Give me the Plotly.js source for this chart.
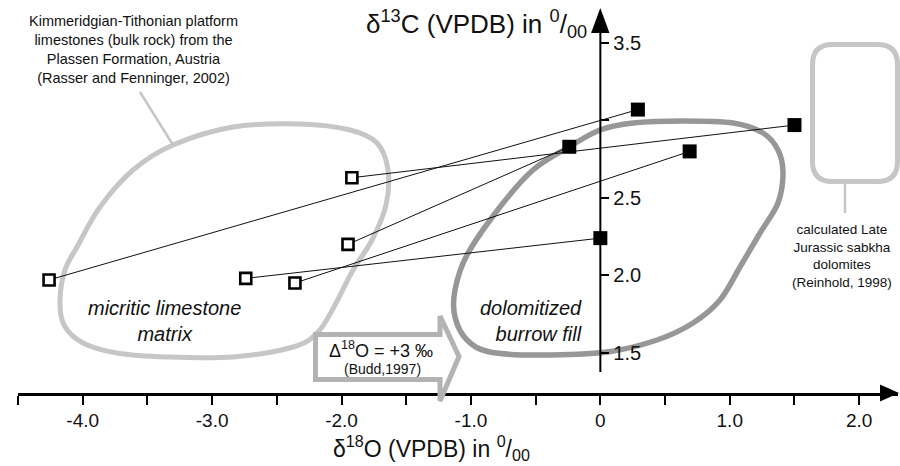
<!DOCTYPE html>
<html>
<head>
<meta charset="utf-8">
<script src="https://cdn.plot.ly/plotly-3.0.1.min.js"></script>
<style>html,body{margin:0;padding:0;background:#fff;}#chart{width:900px;height:466px;}</style>
</head>
<body>
<div id="chart"></div>
<script>
// Data: micritic limestone matrix (open squares) paired with dolomitized burrow fill (filled squares)
const limestoneD18O = [-4.26, -1.92, -1.95, -2.74, -2.36];
const limestoneD13C = [1.97, 2.63, 2.20, 1.98, 1.95];
const burrowD18O = [0.29, 1.50, -0.24, 0.00, 0.69];
const burrowD13C = [3.07, 2.97, 2.83, 2.24, 2.80];

const xTickVals = [-4, -3, -2, -1, 0, 1, 2];
const xTickText = ['-4.0', '-3.0', '-2.0', '-1.0', '0', '1.0', '2.0'];
const yTickVals = [1.5, 2.0, 2.5, 3.5];
const yTickText = ['1.5', '2.0', '2.5', '3.5'];

const FONT = 'Liberation Sans, Arial, Helvetica, sans-serif';

// plot area geometry (pixels)
const L = 18, T = 8, W = 880, H = 385;
const XR = [-4.5, 2.3], YR = [1.24, 3.726];
function px(x) { return (x - L) / W; }
function py(y) { return (T + H - y) / H; }

function smoothClosed(pts) {
  const n = pts.length;
  const P = pts.map(p => [px(p[0]), py(p[1])]);
  let d = 'M ' + P[0][0] + ',' + P[0][1];
  for (let i = 0; i < n; i++) {
    const p0 = P[(i - 1 + n) % n], p1 = P[i], p2 = P[(i + 1) % n], p3 = P[(i + 2) % n];
    const c1 = [p1[0] + (p2[0] - p0[0]) / 6, p1[1] + (p2[1] - p0[1]) / 6];
    const c2 = [p2[0] - (p3[0] - p1[0]) / 6, p2[1] - (p3[1] - p1[1]) / 6];
    d += ' C ' + c1[0] + ',' + c1[1] + ' ' + c2[0] + ',' + c2[1] + ' ' + p2[0] + ',' + p2[1];
  }
  return d + ' Z';
}
function poly(pts) {
  return 'M ' + pts.map(p => px(p[0]) + ',' + py(p[1])).join(' L ') + ' Z';
}

const lightBlob = [[173,145],[233,127],[300,124],[350,130],[377,143],[388,170],[386,205],[372,240],[353,270],[335,305],[318,332],[293,347],[233,357],[167,357],[117,353],[83,343],[64,325],[60,300],[65,270],[77,247],[100,207],[133,170]];
const darkBlob = [[569,147],[600,130],[633,123],[683,121],[733,123],[763,133],[778,150],[783,173],[778,203],[760,233],[740,267],[720,300],[693,323],[657,340],[607,352],[540,355],[490,352],[467,340],[455,317],[455,290],[467,255],[500,207],[533,170]];
const shiftArrow = [[315.5,334.5],[440,334.5],[440,316],[459,356.5],[440,401],[440,379.5],[315.5,379.5]];

// connector lines built from the data arrays
const lx = [], ly = [];
for (let i = 0; i < limestoneD18O.length; i++) {
  lx.push(limestoneD18O[i], burrowD18O[i], null);
  ly.push(limestoneD13C[i], burrowD13C[i], null);
}

const traces = [
  {x: lx, y: ly, mode: 'lines', line: {color: '#111', width: 1}, hoverinfo: 'skip', showlegend: false},
  {x: limestoneD18O, y: limestoneD13C, mode: 'markers', showlegend: false,
   marker: {symbol: 'square', size: 11, color: '#fff', line: {color: '#000', width: 2.6}}},
  {x: burrowD18O, y: burrowD13C, mode: 'markers', showlegend: false,
   marker: {symbol: 'square', size: 14, color: '#000', line: {width: 0}}}
];

const shapes = [
  {type: 'path', xref: 'paper', yref: 'paper', path: smoothClosed(lightBlob), line: {color: '#c6c6c6', width: 5}, layer: 'below'},
  {type: 'path', xref: 'paper', yref: 'paper', path: smoothClosed(darkBlob), line: {color: '#979797', width: 5.5}, layer: 'below'},
  // leader lines
  {type: 'line', xref: 'paper', yref: 'paper', x0: px(140), y0: py(92), x1: px(173), y1: py(145), line: {color: '#c6c6c6', width: 2.5}, layer: 'below'},
  {type: 'line', xref: 'paper', yref: 'paper', x0: px(845), y0: py(183), x1: px(845), y1: py(213), line: {color: '#c6c6c6', width: 2.5}, layer: 'below'},
  // Reinhold rounded box
  {type: 'path', xref: 'paper', yref: 'paper', layer: 'below', line: {color: '#c6c6c6', width: 5},
   path: (function(){ const x0=812.5,x1=897.5,y0=44.5,y1=181.5,r=20;
     return 'M '+px(x0+r)+','+py(y0)+' L '+px(x1-r)+','+py(y0)+' Q '+px(x1)+','+py(y0)+' '+px(x1)+','+py(y0+r)+
     ' L '+px(x1)+','+py(y1-r)+' Q '+px(x1)+','+py(y1)+' '+px(x1-r)+','+py(y1)+
     ' L '+px(x0+r)+','+py(y1)+' Q '+px(x0)+','+py(y1)+' '+px(x0)+','+py(y1-r)+
     ' L '+px(x0)+','+py(y0+r)+' Q '+px(x0)+','+py(y0)+' '+px(x0+r)+','+py(y0)+' Z'; })()},
  // y axis line + arrowhead
  {type: 'line', xref: 'x', yref: 'y', x0: 0, x1: 0, y0: 1.376, y1: 3.6, line: {color: '#000', width: 2}, layer: 'above'},
  {type: 'path', xref: 'paper', yref: 'paper', layer: 'above', fillcolor: '#000', line: {width: 0},
   path: poly([[600.3, 8], [609.5, 33], [591.1, 33]])},
  // x axis arrowhead
  {type: 'path', xref: 'paper', yref: 'paper', layer: 'above', fillcolor: '#000', line: {width: 0},
   path: poly([[899, 393], [880, 384.5], [880, 401.5]])},
  // shift arrow (white filled, covering axis)
  {type: 'path', xref: 'paper', yref: 'paper', layer: 'above', fillcolor: '#fff', line: {color: '#b3b3b3', width: 5},
   path: poly(shiftArrow)}
];

function ann(text, x, y, size, extra) {
  return Object.assign({xref: 'paper', yref: 'paper', x: px(x), y: py(y), text: text, showarrow: false,
    xanchor: 'center', yanchor: 'middle', font: {family: FONT, size: size, color: '#111'}}, extra || {});
}

const annotations = [
  ann('Kimmeridgian-Tithonian platform<br>limestones (bulk rock) from the<br>Plassen Formation, Austria<br>(Rasser and Fenninger, 2002)', 133, 49, 14.5),
  ann('calculated Late<br>Jurassic sabkha<br>dolomites<br>(Reinhold, 1998)', 842, 256, 13.5),
  ann('<i>micritic limestone<br>matrix</i>', 164, 321, 20),
  ann('<i>dolomitized<br>burrow fill</i>', 584, 321, 20, {xanchor: 'right', align: 'right'}),
  ann('Δ<sup>18</sup>O = +3 ‰', 381, 349, 18),
  ann('(Budd,1997)', 382, 369, 14),
  ann('δ<sup>13</sup>C (VPDB) in <sup>0</sup>/<sub>00</sub>', 476, 24, 26),
  ann('δ<sup>18</sup>O (VPDB) in <sup>0</sup>/<sub>00</sub>', 431, 448, 23)
];

const tickStyle = {ticks: 'outside', tickwidth: 2, tickcolor: '#000'};

const layout = {
  width: 900, height: 466,
  margin: {l: L, r: 900 - L - W, t: T, b: 466 - T - H, pad: 0},
  paper_bgcolor: '#fff', plot_bgcolor: '#fff',
  showlegend: false,
  font: {family: FONT, color: '#111'},
  xaxis: Object.assign({range: XR, showgrid: false, zeroline: false, showline: true, linecolor: '#000', linewidth: 2.5,
    ticklen: 9, tickmode: 'array', tickvals: xTickVals, ticktext: xTickText,
    minor: {tickmode: 'linear', tick0: 0, dtick: 0.5, ticks: 'outside', ticklen: 9, tickwidth: 2, tickcolor: '#000', showgrid: false},
    tickfont: {family: FONT, size: 19, color: '#111'}, fixedrange: true}, tickStyle),
  yaxis: Object.assign({range: YR, showgrid: false, zeroline: false, showline: false,
    anchor: 'free', position: (600.3 - L) / W, side: 'right',
    ticklen: 8, tickmode: 'array', tickvals: yTickVals, ticktext: yTickText,
    minor: {tickmode: 'linear', tick0: 0, dtick: 0.5, ticks: 'outside', ticklen: 8, tickwidth: 2, tickcolor: '#000', showgrid: false},
    tickfont: {family: FONT, size: 20, color: '#111'}, fixedrange: true}, tickStyle),
  shapes: shapes,
  annotations: annotations
};

Plotly.newPlot('chart', traces, layout, {displayModeBar: false, staticPlot: true});
</script>
</body>
</html>
